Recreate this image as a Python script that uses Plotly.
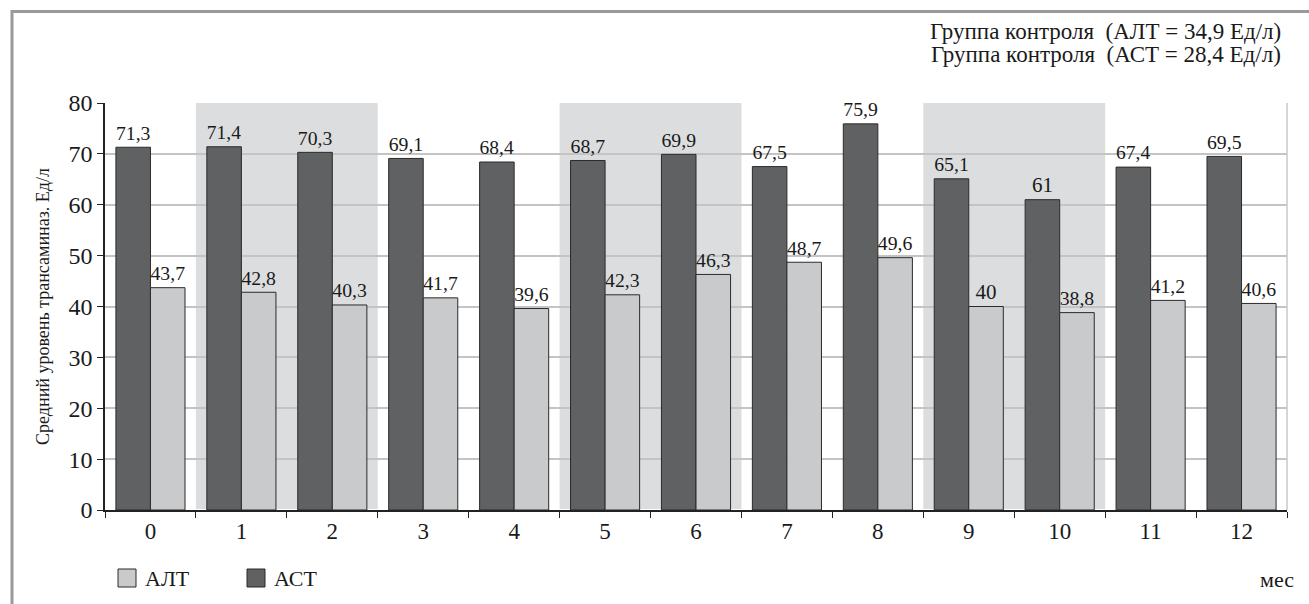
import plotly.graph_objects as go

months = ["0", "1", "2", "3", "4", "5", "6", "7", "8", "9", "10", "11", "12"]
ast = [71.3, 71.4, 70.3, 69.1, 68.4, 68.7, 69.9, 67.5, 75.9, 65.1, 61.0, 67.4, 69.5]
alt = [43.7, 42.8, 40.3, 41.7, 39.6, 42.3, 46.3, 48.7, 49.6, 40.0, 38.8, 41.2, 40.6]
shaded_months = [["1", "2"], ["5", "6"], ["9", "10"]]
control_notes = ["Группа контроля&nbsp;&nbsp;(АЛТ = 34,9 Ед/л)",
                 "Группа контроля&nbsp;&nbsp;(АСТ = 28,4 Ед/л)"]

FONT = "Liberation Serif"
DARK = "#606163"
LIGHT = "#c9cacc"
BAND = "#dcdddf"
EDGE = "#2b2b2b"
INK = "#1a1a1a"

# plot area in pixels (used to place paper-referenced decorations)
W, H = 1309, 604
ML, MR, MT, MB = 105, 22, 103, 94
PW, PH = W - ML - MR, H - MT - MB


def px(x):
    return (x - ML) / PW


def py(y):
    return (H - MB - y) / PH


def fmt(v):
    return f"{v:g}".replace(".", ",")


fig = go.Figure()
fig.add_trace(go.Bar(
    x=months, y=ast, name="АСТ",
    marker=dict(color=DARK, line=dict(color=EDGE, width=1)),
    text=[fmt(v) for v in ast], textposition="outside",
    textfont=dict(family=FONT, size=21, color=INK),
    cliponaxis=False, showlegend=False,
))
fig.add_trace(go.Bar(
    x=months, y=alt, name="АЛТ",
    marker=dict(color=LIGHT, line=dict(color=EDGE, width=1)),
    text=[fmt(v) for v in alt], textposition="outside",
    textfont=dict(family=FONT, size=21, color=INK),
    cliponaxis=False, showlegend=False,
))

shapes = []
# shaded month bands
for a, b in shaded_months:
    i0, i1 = months.index(a), months.index(b)
    shapes.append(dict(type="rect", xref="x", yref="paper",
                       x0=i0 - 0.5, x1=i1 + 0.5, y0=0, y1=1,
                       fillcolor=BAND, line=dict(width=0), layer="below"))
# right edge of plot area
shapes.append(dict(type="line", xref="paper", yref="paper", x0=1, x1=1, y0=0, y1=1,
                   line=dict(color="#c8c8c8", width=1.5)))
# page frame (top and left)
shapes.append(dict(type="line", xref="paper", yref="paper",
                   x0=px(11), x1=px(1320), y0=py(11.5), y1=py(11.5),
                   line=dict(color="#9a9a9a", width=3)))
shapes.append(dict(type="line", xref="paper", yref="paper",
                   x0=px(12), x1=px(12), y0=py(10), y1=py(620),
                   line=dict(color="#9a9a9a", width=3)))

annotations = [
    dict(text=control_notes[0], xref="paper", yref="paper",
         x=px(1283), y=py(31), xanchor="right", yanchor="middle", showarrow=False,
         font=dict(family=FONT, size=23, color=INK)),
    dict(text=control_notes[1], xref="paper", yref="paper",
         x=px(1283), y=py(55), xanchor="right", yanchor="middle", showarrow=False,
         font=dict(family=FONT, size=23, color=INK)),
    dict(text="мес", xref="paper", yref="paper", x=px(1296), y=py(579),
         xanchor="right", yanchor="middle", showarrow=False,
         font=dict(family=FONT, size=22, color=INK)),
]

# legend: ALT first, then AST
legend_items = [("АЛТ", LIGHT, 118), ("АСТ", DARK, 247)]
for name, color, x0 in legend_items:
    shapes.append(dict(type="rect", xref="paper", yref="paper",
                       x0=px(x0), x1=px(x0 + 18), y0=py(587), y1=py(569),
                       fillcolor=color, line=dict(color=EDGE, width=1)))
    annotations.append(dict(text=name, xref="paper", yref="paper",
                            x=px(x0 + 25), y=py(578), xanchor="left", yanchor="middle",
                            showarrow=False, font=dict(family=FONT, size=22, color=INK)))

fig.update_layout(
    width=W, height=H,
    margin=dict(l=ML, r=MR, t=MT, b=MB),
    paper_bgcolor="white", plot_bgcolor="white",
    barmode="group", bargap=0.24, bargroupgap=0,
    font=dict(family=FONT, size=20, color=INK),
    shapes=shapes, annotations=annotations,
    showlegend=False,
    xaxis=dict(type="category", tickson="boundaries", ticks="outside", ticklen=6,
               tickcolor="#222", showline=True, linecolor="#222", linewidth=1.5,
               showgrid=False, tickfont=dict(family=FONT, size=23, color=INK)),
    yaxis=dict(range=[0, 80], dtick=10, ticks="outside", ticklen=6, tickcolor="#222",
               showline=True, linecolor="#222", linewidth=1.5,
               showgrid=True, gridcolor="#c4c4c4", gridwidth=1.5,
               tickfont=dict(family=FONT, size=24, color=INK),
               title=dict(text="Средний уровень трансаминаз. Ед/л",
                          font=dict(family=FONT, size=18, color=INK), standoff=14)),
)

fig.write_html("out.html")
